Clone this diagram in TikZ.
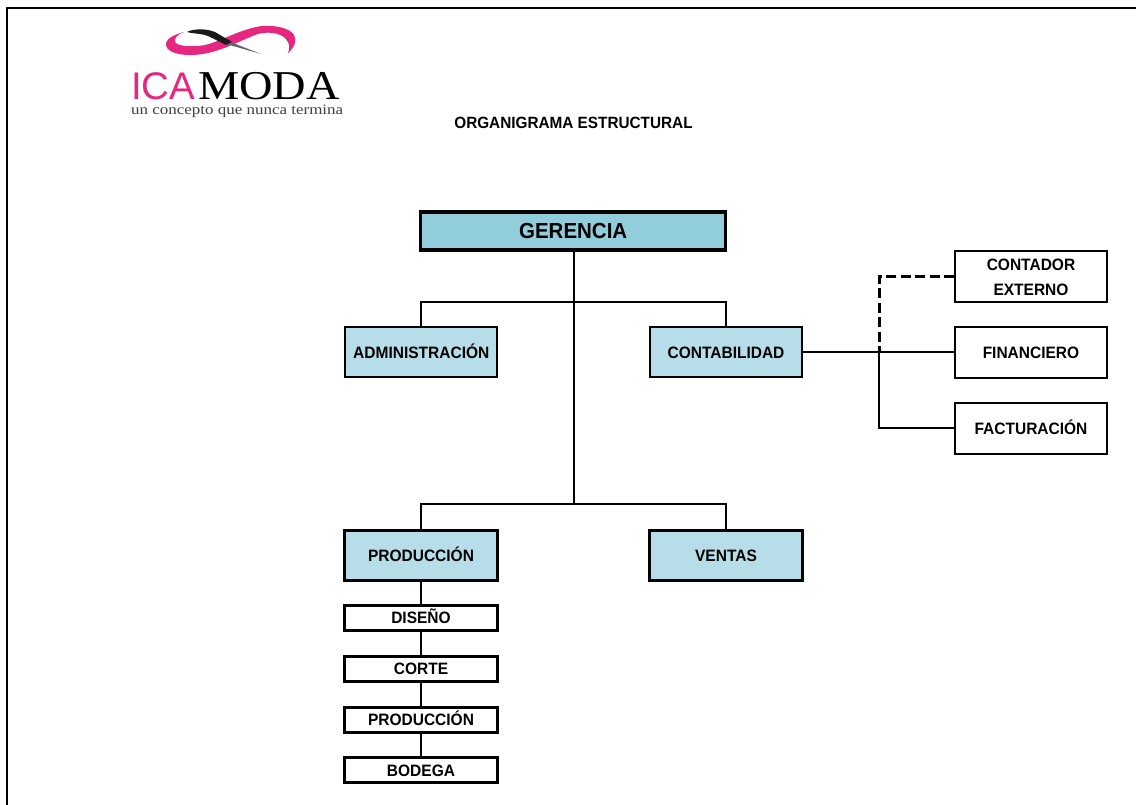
\documentclass[tikz,border=0pt]{standalone}
\usepackage{fontspec}
\setmainfont[FakeStretch=0.94]{Liberation Sans}
\newfontfamily\logoserif[FakeStretch=1.13]{Liberation Serif}
\newfontfamily\logotag[FakeStretch=1.17]{Liberation Serif}
\newfontfamily\logosans{Liberation Sans}
\definecolor{gerfill}{HTML}{92CDDC}
\definecolor{boxfill}{HTML}{B7DDE8}
\definecolor{logopink}{HTML}{E6267F}
\tikzset{
  x=1pt,y=-1pt,
  conn/.style={draw=black,line width=2pt},
  dashconn/.style={draw=black,line width=3pt,dash pattern=on 10pt off 4.5pt},
  base/.style={draw=black,minimum width=152pt,inner sep=0pt,align=center,text height=11.8pt,text depth=0pt,font=\bfseries\fontsize{16.5}{25.5}\selectfont,text=black},
  bluebox/.style={base,fill=boxfill,line width=2pt,minimum height=50pt},
  thickblue/.style={base,fill=boxfill,line width=3pt,minimum width=152.5pt,minimum height=50pt},
  whitebox/.style={base,fill=white,line width=2pt,minimum height=50.5pt},
  smallbox/.style={base,fill=white,line width=3pt,minimum width=152.5pt,minimum height=25pt},
  logotext/.style={anchor=base west,inner sep=0pt,text depth=0pt},
}
\begin{document}
\begin{tikzpicture}
\useasboundingbox (0,0) rectangle (1136,805);
\fill[white] (0,0) rectangle (1136,805);
% frame
\draw[line width=2pt] (7,805) -- (7,8) -- (1136,8);
% logo
\fill[logopink] (184,32) .. controls (176,34) and (167,38) .. (166,43)
  .. controls (165,51) and (176,55) .. (190,55)
  .. controls (215,55) and (235,43) .. (255,35)
  .. controls (265,31) and (280,32) .. (286,39)
  .. controls (290,44) and (290,48) .. (288,53)
  .. controls (295,47) and (297,40) .. (294,35)
  .. controls (290,28) and (275,25) .. (262,26)
  .. controls (240,29) and (222,41) .. (205,45)
  .. controls (195,47) and (178,47) .. (175,42)
  .. controls (174,38) and (178,34) .. (184,32) -- cycle;
\fill[black!60] (228,41) -- (261,54) -- (226,44) -- cycle;
\fill[black!90] (187,32) .. controls (192,29) and (205,28) .. (215,32)
  -- (232,42) -- (226,45) -- (208,36)
  .. controls (200,33) and (193,34) .. (187,32) -- cycle;
\node[logotext,font=\logosans\fontsize{38.5}{38}\selectfont,text=logopink] (logoa) at (131,100) {ICA};
\node[logotext,font=\logoserif\fontsize{41}{41}\selectfont,text=black] (logob) at (198,100) {MODA};
\node[logotext,font=\logotag\fontsize{14.5}{15}\selectfont,text=black!75] (logoc) at (131,115) {un concepto que nunca termina};
% title
\node[font=\bfseries\fontsize{16.3}{18}\selectfont,inner sep=0pt] (title) at (573.5,122.5) {ORGANIGRAMA ESTRUCTURAL};
% nodes
\node[base,fill=gerfill,line width=3.4pt,minimum width=305pt,minimum height=38pt,text height=15.4pt,font=\bfseries\fontsize{21.8}{24}\selectfont] (ger) at (573.2,231) {GERENCIA};
\node[bluebox] (adm) at (421.3,352.3) {ADMINISTRACIÓN};
\node[bluebox] (con) at (726,352.3) {CONTABILIDAD};
\node[thickblue] (pro) at (421,555.3) {PRODUCCIÓN};
\node[thickblue] (ven) at (726,555.3) {VENTAS};
\node[whitebox,text height=,text depth=] (ext) at (1031,276.3) {\rule{0pt}{14pt}CONTADOR\\EXTERNO};
\node[whitebox] (fin) at (1031,352.3) {FINANCIERO};
\node[whitebox] (fac) at (1031,428.3) {FACTURACIÓN};
\node[smallbox] (dis) at (421,618) {DISEÑO};
\node[smallbox] (cor) at (421,669) {CORTE};
\node[smallbox] (pr2) at (421,719.5) {PRODUCCIÓN};
\node[smallbox] (bod) at (421,770.3) {BODEGA};
% coordinates
\coordinate (j1) at (574.3,302);
\coordinate (j2) at (574.3,504);
\coordinate (jr) at (879,352.5);
% connectors
\draw[conn] (ger.south -| j1) -- (j2);
\draw[conn] (adm.north) |- (j1) -| (con.north);
\draw[conn] (pro.north) |- (j2) -| (ven.north);
\draw[conn] (con.east) -- (fin.west);
\draw[conn] (jr) |- (fac.west);
\draw[dashconn] (ext.west) -| (jr);
\draw[conn] (pro.south) -- (dis.north);
\draw[conn] (dis.south) -- (cor.north);
\draw[conn] (cor.south) -- (pr2.north);
\draw[conn] (pr2.south) -- (bod.north);
\end{tikzpicture}
\end{document}
